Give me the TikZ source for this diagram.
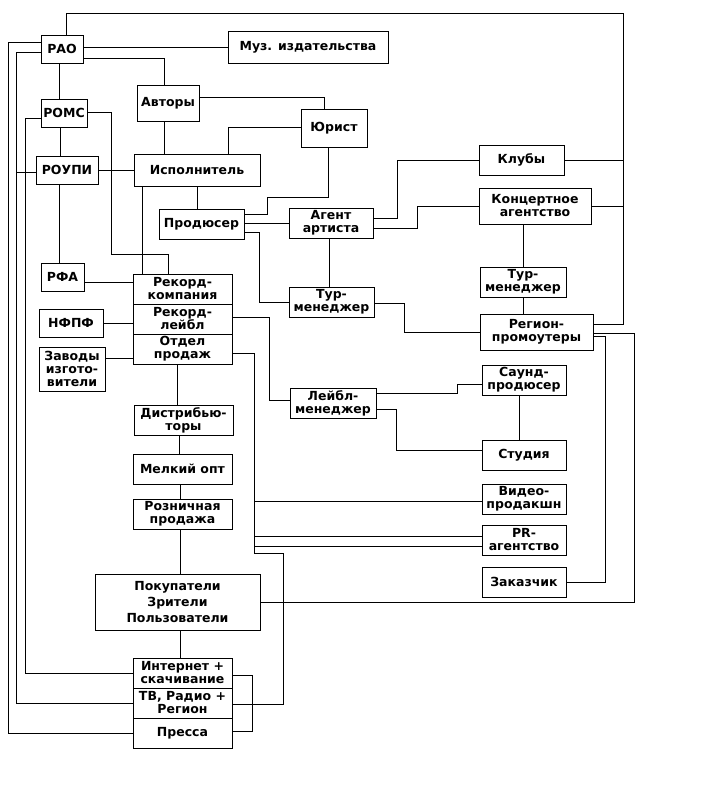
\documentclass[tikz,border=0pt]{standalone}
\usepackage{fontspec}
\setmainfont{DejaVu Sans}
\begin{document}
\begin{tikzpicture}[x=1pt,y=-1pt,
  box/.style={draw, line width=1pt, inner sep=0pt, align=center, font=\bfseries\fontsize{12.5}{13}\selectfont},
  sz/.style 2 args={minimum width=#1pt, minimum height=#2pt},
  link/.style={line width=1pt}]
\useasboundingbox (0,0) rectangle (713,803);
\fill[white] (0,0) rectangle (713,803);
% nodes
\node[box,sz={42}{28}] (rao) at (62,49) {РАО};
\node[box,sz={160}{32}] (muz) at (308,47) {Муз. издательства};
\node[box,sz={62}{36}] (avt) at (168,103) {Авторы};
\node[box,sz={46}{28}] (roms) at (64,113) {РОМС};
\node[box,sz={66}{38}] (yur) at (334,128) {Юрист};
\node[box,sz={62}{28}] (roupi) at (67,170) {РОУПИ};
\node[box,sz={126}{32}] (isp) at (197,170) {Исполнитель};
\node[box,sz={85}{30}] (klub) at (521.5,160) {Клубы};
\node[box,sz={85}{30}] (prod) at (201.5,224) {Продюсер};
\node[box,sz={84}{30}] (agent) at (331,223) {Агент\\артиста};
\node[box,sz={112}{36}] (konc) at (535,206) {Концертное\\агентство};
\node[box,sz={43}{28}] (rfa) at (62.5,277) {РФА};
\node[box,sz={99}{30}] (rk) at (182.5,289) {Рекорд-\\компания};
\node[box,sz={99}{30}] (rl) at (182.5,319) {Рекорд-\\лейбл};
\node[box,sz={99}{30}] (op) at (182.5,349) {Отдел\\продаж};
\node[box,sz={85}{30}] (tur1) at (331.5,302) {Тур-\\менеджер};
\node[box,sz={86}{30}] (tur2) at (523,282) {Тур-\\менеджер};
\node[box,sz={64}{28}] (nfpf) at (71,323) {НФПФ};
\node[box,sz={113}{36}] (reg) at (536.5,332) {Регион-\\промоутеры};
\node[box,sz={66}{44}] (zav) at (72,369) {Заводы\\изгото-\\вители};
\node[box,sz={86}{30}] (leybl) at (333,403) {Лейбл-\\менеджер};
\node[box,sz={84}{30}] (sound) at (524,380) {Саунд-\\продюсер};
\node[box,sz={99}{30}] (distr) at (183.5,420) {Дистрибью-\\торы};
\node[box,sz={84}{30}] (stud) at (524,455) {Студия};
\node[box,sz={99}{30}] (melk) at (182.5,469) {Мелкий опт};
\node[box,sz={84}{30}] (video) at (524,499) {Видео-\\продакшн};
\node[box,sz={99}{30}] (rozn) at (182.5,514) {Розничная\\продажа};
\node[box,sz={84}{30}] (pr) at (524,540) {PR-\\агентство};
\node[box,sz={84}{30}] (zak) at (524,582) {Заказчик};
\node[box,sz={165}{56},font=\bfseries\fontsize{12.5}{16}\selectfont] (pok) at (177.5,602) {Покупатели\\Зрители\\Пользователи};
\node[box,sz={99}{30}] (inet) at (182.5,673) {Интернет +\\скачивание};
\node[box,sz={99}{30}] (tv) at (182.5,703) {ТВ, Радио +\\Регион};
\node[box,sz={99}{30}] (press) at (182.5,733) {Пресса};
\coordinate (bus) at (254,353);
% connectors
\draw[link] (rao.north -| 66,0) |- (623,13) |- (reg.east |- 0,324);
\draw[link] (klub.east) -- (klub.east -| 623,0);
\draw[link] (konc.east) -- (konc.east -| 623,0);
\draw[link] (rao.west |- 0,42) -| (press.west -| 8,0) -- (press.west);
\draw[link] (rao.west |- 0,52) -| (tv.west -| 16,0) -- (tv.west);
\draw[link] (roupi.west |- 0,172) -- (16,172);
\draw[link] (roms.west |- 0,118) -| (inet.west -| 25,0) -- (inet.west);
\draw[link] (rao.east |- muz.west) -- (muz.west);
\draw[link] (rao.east |- 0,58) -| (avt.north -| 164,0);
\draw[link] (rao.south -| 59,0) -- (roms.north -| 59,0);
\draw[link] (roms.south -| 60,0) -- (roupi.north -| 60,0);
\draw[link] (roupi.south -| 59,0) -- (rfa.north -| 59,0);
\draw[link] (roms.east |- 0,112) -| (111,254) -| (rk.north -| 168,0);
\draw[link] (roupi.east) -- (roupi.east -| isp.west);
\draw[link] (avt.south -| 164,0) -- (isp.north -| 164,0);
\draw[link] (avt.east |- 0,97) -| (yur.north -| 324,0);
\draw[link] (yur.west |- 0,127) -| (isp.north -| 228,0);
\draw[link] (isp.south -| 142,0) -- (rk.north -| 142,0);
\draw[link] (isp.south -| 197,0) -- (prod.north -| 197,0);
\draw[link] (yur.south -| 328,0) |- (267,197) |- (prod.east |- 0,214);
\draw[link] (prod.east |- agent.west) -- (agent.west);
\draw[link] (prod.east |- 0,232) -| (259,302) -- (tur1.west);
\draw[link] (agent.south -| 329,0) -- (tur1.north -| 329,0);
\draw[link] (agent.east |- 0,218) -| (397,160) -- (klub.west);
\draw[link] (agent.east |- 0,228) -| (417,206) -- (konc.west);
\draw[link] (konc.south -| 523,0) -- (tur2.north -| 523,0);
\draw[link] (tur2.south -| 523,0) -- (reg.north -| 523,0);
\draw[link] (tur1.east |- 0,303) -| (404,332) -- (reg.west);
\draw[link] (reg.east |- 0,333) -| (634,602) -- (pok.east);
\draw[link] (reg.east |- 0,336) -| (zak.east -| 605,0) -- (zak.east);
\draw[link] (rfa.east |- 0,282) -- (rk.west |- 0,282);
\draw[link] (nfpf.east |- 0,323) -- (rl.west |- 0,323);
\draw[link] (zav.east |- 0,358) -- (op.west |- 0,358);
\draw[link] (rl.east |- 0,317) -| (269,400) -- (leybl.west |- 0,400);
\draw[link] (op.east |- bus) -- (bus) |- (283,553) |- (tv.east |- 0,704);
\draw[link] (bus |- 0,501) -- (video.west |- 0,501);
\draw[link] (bus |- 0,536) -- (pr.west |- 0,536);
\draw[link] (bus |- 0,546) -- (pr.west |- 0,546);
\draw[link] (inet.east |- 0,675) -| (252,731) -- (press.east |- 0,731);
\draw[link] (op.south -| 177,0) -- (distr.north -| 177,0);
\draw[link] (distr.south -| 179,0) -- (melk.north -| 179,0);
\draw[link] (melk.south -| 180,0) -- (rozn.north -| 180,0);
\draw[link] (rozn.south -| 180,0) -- (pok.north -| 180,0);
\draw[link] (pok.south -| 180,0) -- (inet.north -| 180,0);
\draw[link] (leybl.east |- 0,393) -| (457,384) -- (sound.west |- 0,384);
\draw[link] (leybl.east |- 0,409) -| (396,450) -- (stud.west |- 0,450);
\draw[link] (sound.south -| 519,0) -- (stud.north -| 519,0);
\end{tikzpicture}
\end{document}
